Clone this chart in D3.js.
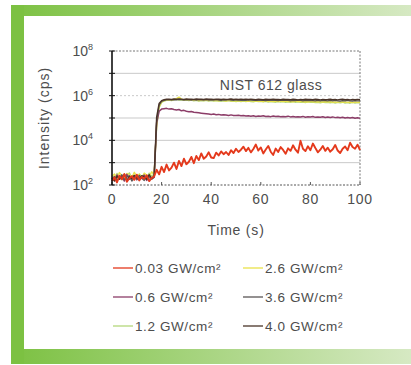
<!DOCTYPE html>
<html>
<head>
<meta charset="utf-8">
<script src="https://cdn.jsdelivr.net/npm/d3@7"></script>
<style>
  html, body { margin: 0; padding: 0; background: #fff; }
  svg { display: block; font-family: "Liberation Sans", Arial, sans-serif; }
</style>
</head>
<body>
<svg id="chart" width="411" height="365"></svg>
<script>
// Time axis (s), one reading per second
const time = d3.range(0, 101)

// Intensity (cps) for each fluence
const cps003 = [
  150, 220, 130, 260, 180, 310, 140, 200, 250, 170, 290, 160, 230, 190, 270, 150, 210, 240,
  480, 300, 650, 380, 820, 450, 600, 1000, 520, 1200, 700, 1500, 850,
  1100, 1800, 950, 2000, 1300, 2600, 1500, 1900, 2900, 1700,
  1600, 2800, 2100, 3200, 2400, 3000, 2200, 3600, 2700, 4200,
  3000, 3800, 5200, 3300, 4600, 2900, 4100, 6500, 3500, 4800,
  2600, 3900, 5600, 3100, 2200, 4300, 3000, 5000, 3700, 2500,
  4400, 3400, 6000, 3800, 2800, 9500, 4200, 3300, 5400, 3600,
  7200, 4500, 2900, 3800, 5600, 3400, 4700, 3100, 4000, 6200,
  3500, 2700, 4200, 5300, 3600, 7800, 5000, 4200, 6400, 3700
]
const cps06 = [
  210, 160, 280, 190, 240, 150, 300, 180, 220, 260, 170, 230, 200, 280, 160, 250, 190, 220,
  6e4, 2.0e5, 2.5e5, 2.6e5, 2.7e5, 2.5e5, 2.6e5, 2.4e5, 2.3e5, 2.4e5, 2.1e5, 2.2e5, 2.0e5,
  1.9e5, 1.95e5, 1.8e5, 1.75e5, 1.7e5, 1.65e5, 1.6e5, 1.55e5, 1.5e5, 1.45e5,
  1.5e5, 1.4e5, 1.45e5, 1.35e5, 1.4e5, 1.35e5, 1.3e5, 1.38e5, 1.3e5, 1.28e5,
  1.32e5, 1.25e5, 1.3e5, 1.22e5, 1.27e5, 1.2e5, 1.25e5, 1.18e5, 1.22e5, 1.2e5,
  1.26e5, 1.17e5, 1.2e5, 1.15e5, 1.22e5, 1.16e5, 1.2e5, 1.13e5, 1.18e5, 1.15e5,
  1.21e5, 1.12e5, 1.17e5, 1.1e5, 1.15e5, 1.12e5, 1.18e5, 1.09e5, 1.14e5, 1.1e5,
  1.16e5, 1.07e5, 1.12e5, 1.08e5, 1.14e5, 1.05e5, 1.1e5, 1.06e5, 1.12e5, 1.04e5,
  1.09e5, 1.02e5, 1.08e5, 1.0e5, 1.05e5, 1.0e5, 1.06e5, 9.8e4, 1.03e5, 9.6e4
]
const cps12 = [
  260, 190, 330, 220, 170, 290, 240, 350, 200, 270, 180, 310, 230, 280, 210, 340, 250, 300,
  4.0e4, 3.0e5, 5.0e5, 5.8e5, 6.2e5, 6.4e5, 6.0e5, 6.5e5, 6.9e5, 6.3e5, 6.6e5, 6.2e5, 6.4e5,
  6.0e5, 6.3e5, 5.9e5, 6.2e5, 5.8e5, 6.1e5, 5.9e5, 6.2e5, 5.8e5, 6.0e5,
  5.7e5, 6.0e5, 5.8e5, 5.6e5, 5.9e5, 5.7e5, 6.0e5, 5.6e5, 5.8e5, 5.5e5,
  5.8e5, 5.5e5, 5.7e5, 5.4e5, 5.8e5, 5.5e5, 5.3e5, 5.7e5, 5.4e5, 5.6e5,
  5.3e5, 5.6e5, 5.2e5, 5.5e5, 5.3e5, 5.1e5, 5.5e5, 5.2e5, 5.4e5, 5.1e5,
  5.3e5, 5.0e5, 5.4e5, 5.1e5, 5.3e5, 5.0e5, 5.2e5, 4.9e5, 5.3e5, 5.0e5,
  5.2e5, 4.9e5, 5.1e5, 4.8e5, 5.2e5, 4.9e5, 5.1e5, 4.8e5, 5.0e5, 4.7e5,
  5.0e5, 4.8e5, 5.1e5, 4.7e5, 4.9e5, 4.6e5, 5.0e5, 4.7e5, 4.9e5, 4.8e5
]
const cps26 = [
  240, 310, 200, 360, 260, 190, 330, 280, 220, 370, 250, 300, 210, 340, 270, 230, 390, 280,
  5.0e4, 3.2e5, 5.2e5, 6.0e5, 6.4e5, 6.6e5, 6.2e5, 6.8e5, 7.4e5, 8.6e5, 7.0e5, 6.4e5, 6.7e5,
  6.3e5, 6.6e5, 6.2e5, 6.5e5, 6.1e5, 6.4e5, 6.0e5, 6.3e5, 6.1e5, 6.4e5,
  6.0e5, 6.2e5, 5.9e5, 6.3e5, 6.0e5, 5.8e5, 6.2e5, 5.9e5, 6.1e5, 5.8e5,
  6.0e5, 5.7e5, 6.1e5, 5.8e5, 5.6e5, 6.0e5, 5.7e5, 5.9e5, 5.6e5, 5.8e5,
  5.5e5, 5.9e5, 5.6e5, 5.8e5, 5.5e5, 5.7e5, 5.4e5, 5.8e5, 5.5e5, 5.7e5,
  5.4e5, 5.6e5, 5.3e5, 5.7e5, 5.4e5, 5.6e5, 5.3e5, 5.5e5, 5.2e5, 5.6e5,
  5.3e5, 5.5e5, 5.2e5, 5.4e5, 5.1e5, 5.5e5, 5.2e5, 5.4e5, 5.1e5, 5.3e5,
  5.0e5, 5.4e5, 5.1e5, 5.3e5, 5.0e5, 5.2e5, 4.9e5, 5.3e5, 5.0e5, 5.2e5
]
const cps36 = [
  180, 240, 160, 210, 290, 170, 230, 260, 150, 220, 190, 270, 200, 160, 250, 210, 180, 230,
  7.0e4, 3.8e5, 5.6e5, 6.2e5, 6.5e5, 6.6e5, 6.4e5, 6.7e5, 6.5e5, 6.8e5, 6.6e5, 6.4e5, 6.7e5,
  6.5e5, 6.3e5, 6.6e5, 6.4e5, 6.7e5, 6.5e5, 6.3e5, 6.6e5, 6.4e5, 6.5e5,
  6.3e5, 6.6e5, 6.4e5, 6.2e5, 6.5e5, 6.3e5, 6.6e5, 6.4e5, 6.2e5, 6.5e5,
  6.3e5, 6.1e5, 6.4e5, 6.2e5, 6.5e5, 6.3e5, 6.1e5, 6.4e5, 6.2e5, 6.4e5,
  6.2e5, 6.0e5, 6.3e5, 6.1e5, 6.4e5, 6.2e5, 6.0e5, 6.3e5, 6.1e5, 6.3e5,
  6.1e5, 5.9e5, 6.2e5, 6.0e5, 6.3e5, 6.1e5, 5.9e5, 6.2e5, 6.0e5, 6.2e5,
  6.0e5, 5.8e5, 6.1e5, 5.9e5, 6.2e5, 6.0e5, 5.8e5, 6.1e5, 5.9e5, 6.1e5,
  5.9e5, 5.7e5, 6.0e5, 5.8e5, 6.1e5, 5.9e5, 5.7e5, 6.0e5, 5.8e5, 5.9e5
]
const cps40 = [
  200, 150, 250, 180, 220, 300, 160, 240, 190, 270, 210, 170, 260, 230, 180, 290, 200, 250,
  1.1e5, 4.5e5, 6.0e5, 6.6e5, 6.9e5, 7.0e5, 6.8e5, 7.1e5, 6.9e5, 7.2e5, 7.0e5, 6.8e5, 7.1e5,
  6.9e5, 7.0e5, 6.8e5, 7.1e5, 6.9e5, 7.0e5, 6.8e5, 7.1e5, 6.9e5, 7.0e5,
  6.8e5, 7.0e5, 6.9e5, 6.7e5, 7.0e5, 6.8e5, 6.9e5, 7.1e5, 6.8e5, 6.9e5,
  6.7e5, 7.0e5, 6.8e5, 6.9e5, 6.7e5, 7.0e5, 6.8e5, 6.6e5, 6.9e5, 6.8e5,
  6.6e5, 6.9e5, 6.7e5, 6.8e5, 7.0e5, 6.7e5, 6.8e5, 6.6e5, 6.9e5, 6.7e5,
  6.8e5, 6.6e5, 6.9e5, 6.7e5, 6.5e5, 6.8e5, 6.6e5, 6.9e5, 6.7e5, 6.8e5,
  6.6e5, 6.9e5, 6.7e5, 6.5e5, 6.8e5, 6.6e5, 6.7e5, 6.9e5, 6.6e5, 6.8e5,
  6.5e5, 6.7e5, 6.9e5, 6.6e5, 6.8e5, 6.5e5, 6.7e5, 6.6e5, 6.8e5, 6.6e5
]

// Legend order is column-wise: left column then right column
const fluences = ['0.03', '0.6', '1.2', '2.6', '3.6', '4.0']
const seriesValues = [cps003, cps06, cps12, cps26, cps36, cps40]
const seriesColors = ['#e4391c', '#8c3d68', '#b4d77a', '#e9e24a', '#5a5656', '#4a3328']
const seriesWidths = [1.9, 1.5, 1.4, 1.4, 1.3, 1.4]
// draw order: plateau group first, red trace last so it sits over the baseline
const drawOrder = [2, 3, 1, 4, 5, 0]

const yTickValues = [1e2, 1e3, 1e4, 1e5, 1e6, 1e7, 1e8]
const yLabelExp = [2, 4, 6, 8]
const xTickValues = [0, 20, 40, 60, 80, 100]

const svg = d3.select('#chart')

// green frame
const defs = svg.append('defs')
const grad = defs.append('linearGradient').attr('id', 'band')
  .attr('x1', 0).attr('x2', 1).attr('y1', 0).attr('y2', 0)
grad.append('stop').attr('offset', '0%').attr('stop-color', '#7cc142')
grad.append('stop').attr('offset', '100%').attr('stop-color', '#d6e9c3')

svg.append('rect').attr('x', 11).attr('y', 5).attr('width', 400).attr('height', 11).attr('fill', 'url(#band)')
svg.append('rect').attr('x', 11).attr('y', 349).attr('width', 400).attr('height', 15).attr('fill', 'url(#band)')
svg.append('rect').attr('x', 11).attr('y', 5).attr('width', 13).attr('height', 359).attr('fill', '#7cc142')

const x = d3.scaleLinear().domain([0, 100]).range([112, 360])
const y = d3.scaleLog().domain([1e2, 1e8]).range([185, 51])

const textColor = '#4d4d4d'
const plot = svg.append('g')

// gridlines
plot.selectAll('line.grid')
  .data(yTickValues.filter(v => v > 1e2 && v < 1e8))
  .join('line')
  .attr('class', 'grid')
  .attr('x1', x(0)).attr('x2', x(100))
  .attr('y1', d => y(d)).attr('y2', d => y(d))
  .attr('stroke', '#c9c9c9')
  .attr('stroke-width', 1)
  .attr('stroke-dasharray', d => d === 1e6 ? '2,2' : null)

// top and right frame (dotted)
plot.append('line').attr('x1', x(0)).attr('x2', x(100)).attr('y1', y(1e8)).attr('y2', y(1e8))
  .attr('stroke', '#777').attr('stroke-dasharray', '2,1.5')
plot.append('line').attr('x1', x(100)).attr('x2', x(100)).attr('y1', y(1e8)).attr('y2', y(1e2))
  .attr('stroke', '#777').attr('stroke-dasharray', '2,1.5')

// series
const line = d3.line()
  .x((d, i) => x(time[i]))
  .y(d => y(d))

plot.selectAll('path.series')
  .data(drawOrder)
  .join('path')
  .attr('class', 'series')
  .attr('fill', 'none')
  .attr('stroke', k => seriesColors[k])
  .attr('stroke-width', k => seriesWidths[k])
  .attr('stroke-linejoin', 'round')
  .attr('d', k => line(seriesValues[k]))

// x axis (bottom, dotted with upward ticks)
const xAxis = svg.append('g').attr('transform', `translate(0,${y(1e2)})`)
xAxis.append('line').attr('x1', x(0)).attr('x2', x(100))
  .attr('stroke', '#555').attr('stroke-dasharray', '2,1.5')
xAxis.selectAll('line.tick')
  .data(xTickValues)
  .join('line').attr('class', 'tick')
  .attr('x1', d => x(d)).attr('x2', d => x(d))
  .attr('y1', 0).attr('y2', -3)
  .attr('stroke', '#555')
xAxis.selectAll('text')
  .data(xTickValues)
  .join('text')
  .attr('x', d => x(d)).attr('y', 19)
  .attr('text-anchor', 'middle')
  .attr('fill', textColor)
  .attr('font-size', 14)
  .attr('letter-spacing', 0.7)
  .text(d => d)

// y axis (left, solid)
const yAxis = svg.append('g')
yAxis.append('line').attr('x1', x(0)).attr('x2', x(0)).attr('y1', y(1e8)).attr('y2', y(1e2))
  .attr('stroke', '#111').attr('stroke-width', 1.6)
yAxis.selectAll('line.tick')
  .data(yTickValues)
  .join('line').attr('class', 'tick')
  .attr('x1', x(0) - 3).attr('x2', x(0) + 3)
  .attr('y1', d => y(d)).attr('y2', d => y(d))
  .attr('stroke', '#111')
const yLab = yAxis.selectAll('text')
  .data(yLabelExp)
  .join('text')
  .attr('x', 93).attr('y', d => y(Math.pow(10, d)) + 5)
  .attr('text-anchor', 'end')
  .attr('fill', textColor)
  .attr('font-size', 14)
yLab.append('tspan').text('10')
yLab.append('tspan').attr('dy', -6).attr('font-size', 9).text(d => d)

// axis titles
svg.append('text')
  .attr('transform', `translate(49,${(y(1e8) + y(1e2)) / 2}) rotate(-90)`)
  .attr('text-anchor', 'middle')
  .attr('fill', textColor)
  .attr('font-size', 14)
  .attr('letter-spacing', 1)
  .text('Intensity (cps)')
svg.append('text')
  .attr('x', (x(0) + x(100)) / 2).attr('y', 235)
  .attr('text-anchor', 'middle')
  .attr('fill', textColor)
  .attr('font-size', 14)
  .attr('letter-spacing', 0.8)
  .text('Time (s)')

// annotation
svg.append('text')
  .attr('x', 271).attr('y', 90)
  .attr('text-anchor', 'middle')
  .attr('fill', textColor)
  .attr('font-size', 14)
  .attr('letter-spacing', 0.5)
  .text('NIST 612 glass')

// legend, two columns of three
const legend = svg.append('g')
const legendItems = legend.selectAll('g')
  .data(fluences)
  .join('g')
  .attr('transform', (d, i) => `translate(${i < 3 ? 113 : 243},${268 + (i % 3) * 29})`)
legendItems.append('line')
  .attr('x1', 0).attr('x2', 20)
  .attr('stroke', (d, i) => seriesColors[i])
  .attr('stroke-width', 1.3)
legendItems.append('text')
  .attr('x', 22).attr('y', 5)
  .attr('fill', textColor)
  .attr('font-size', 13.5)
  .attr('letter-spacing', 0.6)
  .text(d => `${d} GW/cm²`)
</script>
</body>
</html>
